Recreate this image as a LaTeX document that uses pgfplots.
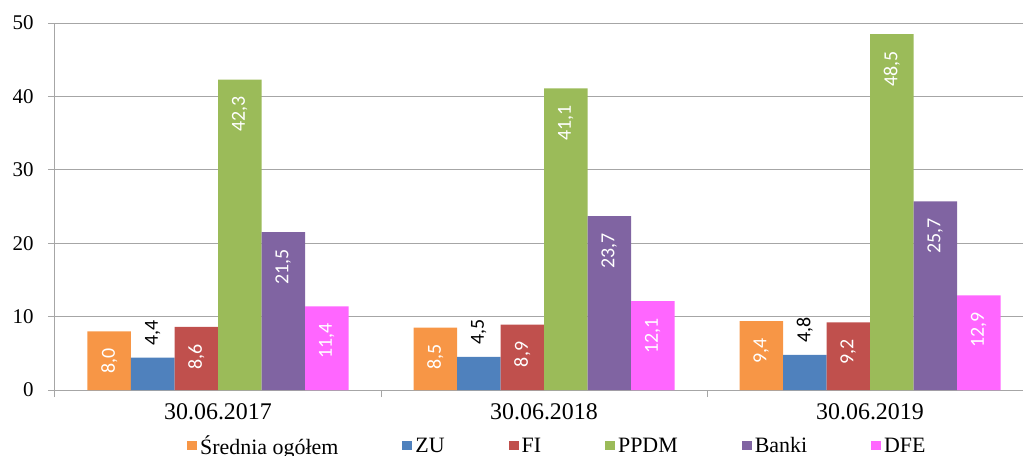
\documentclass[border=0pt]{standalone}
\usepackage{fontspec}
\setmainfont{Liberation Serif}
\newfontfamily\lab{Carlito}
\usepackage{pgfplots}
\pgfplotsset{compat=1.18}
\definecolor{cA}{HTML}{F79646}
\definecolor{cB}{HTML}{4F81BD}
\definecolor{cC}{HTML}{C0504D}
\definecolor{cD}{HTML}{9BBB59}
\definecolor{cE}{HTML}{8064A2}
\definecolor{cF}{HTML}{FF66FF}
\definecolor{gridgray}{HTML}{A6A6A6}
\pgfplotsset{
  inlab/.style={every node near coord/.append style={font=\lab\fontsize{20}{20}\selectfont, text=white, inner sep=0pt, yshift=-17bp, rotate=90, anchor=east}},
  outlab/.style={every node near coord/.append style={font=\lab\fontsize{20}{20}\selectfont, text=black, inner sep=0pt, yshift=12bp, rotate=90, anchor=west}},
}
\begin{document}
\begin{tikzpicture}
\begin{axis}[
  at={(0,0)}, anchor=south west,
  scale only axis, width=978bp, height=367bp,
  xmin=-0.5, xmax=2.5, ymin=0, ymax=50,
  ybar=0pt, bar width=43.5bp,
  xtick={-0.5,0.5,1.5,2.5},
  x tick label as interval,
  xticklabels={30.06.2017,30.06.2018,30.06.2019,},
  ytick={0,10,20,30,40,50},
  axis x line*=bottom, axis y line*=left,
  axis line style={draw=gridgray, line width=1bp, -},
  ymajorgrids, grid style={gridgray, line width=1bp},
  tick align=outside, major tick length=7bp,
  tick style={draw=gridgray, line width=1bp},
  /pgf/number format/assume math mode=true,
  xticklabel style={font=\fontsize{24}{24}\selectfont, yshift=-3bp},
  yticklabel style={font=\fontsize{21}{21}\selectfont, xshift=-11bp},
  nodes near coords={\pgfmathprintnumber[fixed,fixed zerofill,precision=1,use comma,assume math mode=true]{\pgfplotspointmeta}},
  legend columns=6,
  legend style={at={(0.135,-0.152)}, anchor=west, draw=none, inner sep=0pt,
    font=\fontsize{22}{22}\selectfont,
    nodes={inner xsep=3bp},
    /tikz/every even column/.append style={column sep=61bp}},
  legend image code/.code={\draw[#1,draw=none] (0bp,-4.5bp) rectangle (10bp,5bp);},
]
\addplot[fill=cA, draw=none, inlab] coordinates {(0,8.0) (1,8.5) (2,9.4)};
\addlegendentry{Średnia ogółem}
\addplot[fill=cB, draw=none, outlab] coordinates {(0,4.4) (1,4.5) (2,4.8)};
\addlegendentry{ZU}
\addplot[fill=cC, draw=none, inlab] coordinates {(0,8.6) (1,8.9) (2,9.2)};
\addlegendentry{FI}
\addplot[fill=cD, draw=none, inlab] coordinates {(0,42.3) (1,41.1) (2,48.5)};
\addlegendentry{PPDM}
\addplot[fill=cE, draw=none, inlab] coordinates {(0,21.5) (1,23.7) (2,25.7)};
\addlegendentry{Banki}
\addplot[fill=cF, draw=none, inlab] coordinates {(0,11.4) (1,12.1) (2,12.9)};
\addlegendentry{DFE}
\end{axis}
\pgfresetboundingbox
\path[use as bounding box] (-55bp,-66bp) rectangle (968bp,390bp);
\end{tikzpicture}
\end{document}
